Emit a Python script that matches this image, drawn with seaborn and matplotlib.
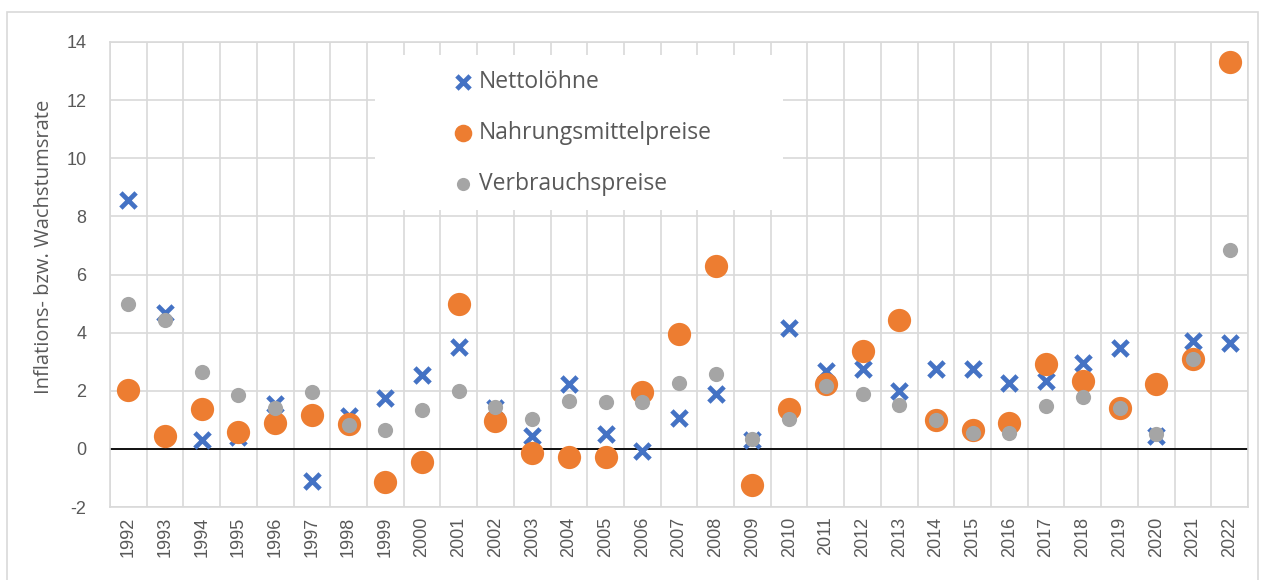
import matplotlib
matplotlib.use("Agg")
import matplotlib.pyplot as plt
from matplotlib.patches import Rectangle
from matplotlib.ticker import MultipleLocator
import numpy as np
import pandas as pd
import seaborn as sns

sns.set_theme(style="white")
plt.rcParams['font.family'] = ['Open Sans', 'DejaVu Sans']
plt.rcParams['axes.unicode_minus'] = False

years = [str(y) for y in range(1992, 2023)]

nettoloehne = [8.56, 4.68, 0.31, 0.40, 1.54, -1.12, 1.14, 1.75, 2.54, 3.50,
               1.42, 0.45, 2.23, 0.51, -0.06, 1.05, 1.88, 0.30, 4.16, 2.68,
               2.74, 2.00, 2.76, 2.74, 2.28, 2.32, 2.97, 3.48, 0.45, 3.71, 3.63]
nahrungsmittel = [2.01, 0.46, 1.37, 0.59, 0.88, 1.15, 0.86, -1.15, -0.46, 4.97,
                  0.97, -0.15, -0.29, -0.29, 1.96, 3.96, 6.28, -1.23, 1.37, 2.23,
                  3.37, 4.43, 0.99, 0.65, 0.88, 2.93, 2.32, 1.42, 2.23, 3.08, 13.32]
verbraucher = [4.99, 4.43, 2.65, 1.85, 1.42, 1.94, 0.83, 0.66, 1.34, 1.99,
               1.43, 1.03, 1.65, 1.60, 1.60, 2.28, 2.59, 0.34, 1.03, 2.18,
               1.88, 1.52, 0.99, 0.53, 0.53, 1.46, 1.77, 1.42, 0.51, 3.08, 6.85]

df = pd.DataFrame({"Jahr": years,
                   "Nettolöhne": nettoloehne,
                   "Nahrungsmittelpreise": nahrungsmittel,
                   "Verbraucherpreise": verbraucher})

grid_c = "#d9d9d9"
text_c = "#595959"

fig = plt.figure(figsize=(12.65, 5.8), dpi=100)
ax = fig.add_axes([110 / 1265, 1 - 507 / 580, 1138 / 1265, 465 / 580])

# outer chart border
fig.add_artist(Rectangle((7 / 1265, -0.01), 1251 / 1265, 1 - 12 / 580 + 0.01,
                         transform=fig.transFigure, fill=False,
                         edgecolor=grid_c, linewidth=1.2))

sns.scatterplot(data=df, x="Jahr", y="Nettolöhne", marker="x", s=120,
                color="#4472C4", linewidth=3.4, ax=ax, zorder=3,
                label="Nettolöhne")
sns.scatterplot(data=df, x="Jahr", y="Nahrungsmittelpreise", marker="o", s=280,
                color="#ED7D31", linewidth=0, ax=ax, zorder=4,
                label="Nahrungsmittelpreise")
sns.scatterplot(data=df, x="Jahr", y="Verbraucherpreise", marker="o", s=120,
                color="#A5A5A5", linewidth=0, ax=ax, zorder=5,
                label="Verbrauchspreise")

ax.set_xlim(-0.5, len(years) - 0.5)
ax.set_ylim(-2, 14)
ax.yaxis.set_major_locator(MultipleLocator(2))
ax.xaxis.set_minor_locator(MultipleLocator(1, offset=0.5))
ax.grid(False)
ax.grid(axis="y", which="major", color=grid_c, linewidth=1.2, zorder=0)
ax.grid(axis="x", which="minor", color=grid_c, linewidth=1.2, zorder=0)
ax.set_axisbelow(True)
ax.axhline(0, color="black", linewidth=1.3, zorder=2)

for s in ax.spines.values():
    s.set_color(grid_c)
    s.set_linewidth(1.2)

ax.tick_params(axis="both", which="both", length=0)
ax.tick_params(axis="y", pad=17, labelsize=13, labelcolor=text_c)
ax.tick_params(axis="x", pad=7, labelsize=13, labelcolor=text_c)
for lab in ax.get_xticklabels():
    lab.set_rotation(90)
    lab.set_fontfamily(["Liberation Sans", "DejaVu Sans"])
for lab in ax.get_yticklabels():
    lab.set_fontfamily(["Liberation Sans", "DejaVu Sans"])

ax.set_xlabel("")
ax.set_ylabel("Inflations- bzw. Wachstumsrate", fontsize=14.5, color=text_c)
ax.yaxis.set_label_coords(-0.049, 0.559)

# white legend area
ax.add_patch(Rectangle((0.2329, 0.6387), 0.3585, 0.3333, transform=ax.transAxes,
                       facecolor="white", edgecolor="none", zorder=1.5))
leg = ax.legend(loc="upper left", bbox_to_anchor=(0.288, 0.965), frameon=False,
                fontsize=16.5, handletextpad=0.1, labelspacing=1.19,
                borderpad=0, handlelength=1.2)
for t in leg.get_texts():
    t.set_color(text_c)
for h, size in zip(leg.legend_handles, [90, 160, 90]):
    h.set_sizes([size])

fig.savefig("out.png", dpi=100)
